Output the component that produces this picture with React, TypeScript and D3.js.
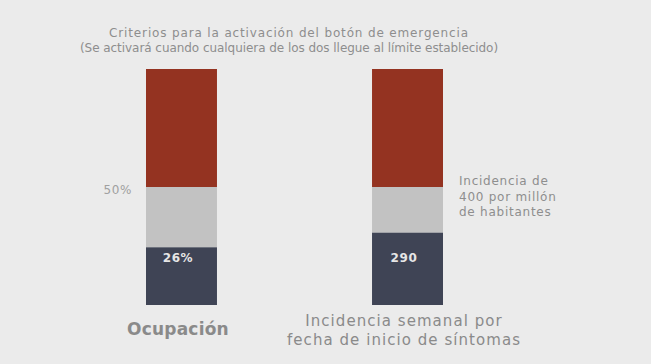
import React from "react";
import * as d3 from "d3";

const categories = ["Ocupación", "Incidencia semanal por\nfecha de inicio de síntomas"];
const segmentNames = ["actual", "margen", "exceso"];
// segment values (stacked bottom-up), per bar on its own scale
const occupancySegments = [24.5, 25.5, 50];
const incidenceSegments = [246, 154, 400];
const scaleMax = [100, 800];
const valueLabels = ["26%", "290"];
const thresholdLabels = ["50%", "Incidencia de\n400 por millón\nde habitantes"];
const title = "Criterios para la activación del botón de emergencia";
const subtitle = "(Se activará cuando cualquiera de los dos llegue al límite establecido)";

const colors = ["#3f4455", "#c2c2c2", "#943321"];
const W = 651, H = 364;
const FONT = "'DejaVu Sans', sans-serif";

export default function App() {
  const x = d3.scaleBand().domain(categories).range([146, 443]).paddingInner(0.686).paddingOuter(0);
  const bars = [occupancySegments, incidenceSegments];
  const top = 69, bottom = 305;
  return (
    <svg width={W} height={H} style={{ position: "absolute", left: 0, top: 0, background: "#ebebeb" }}>
      <rect width={W} height={H} fill="#ebebeb" />
      <text x={289} y={37} textAnchor="middle" fontFamily={FONT} fontSize={12} letterSpacing={0.85} fill="#8e8e8e">{title}</text>
      <text x={289} y={52} textAnchor="middle" fontFamily={FONT} fontSize={12} letterSpacing={-0.05} fill="#8e8e8e">{subtitle}</text>
      {categories.map((c, i) => {
        const y = d3.scaleLinear().domain([0, scaleMax[i]]).range([bottom, top]);
        const stack = d3.stack<number[]>().keys(["0", "1", "2"]).value((d, k) => d[+k])([bars[i]]);
        const bx = x(c)!;
        const bw = x.bandwidth();
        const thr = y(bars[i][0] + bars[i][1]);
        const lines = c.split("\n");
        const thrLines = thresholdLabels[i].split("\n");
        const cx = bx + bw / 2 - 3.5;
        return (
          <g key={c}>
            {stack.map((s, k) => (
              <rect key={segmentNames[k]} x={bx} width={bw} y={y(s[0][1])} height={y(s[0][0]) - y(s[0][1])} fill={colors[k]} />
            ))}
            <text x={cx} y={262} textAnchor="middle" fontFamily={FONT} fontSize={12} fontWeight={600} letterSpacing={0.6} fill="#e6e6e6">{valueLabels[i]}</text>
            {i === 0 ? (
              <text x={bx - 14} y={thr + 7} textAnchor="end" fontFamily={FONT} fontSize={12} letterSpacing={0.6} fill="#a0a0a0">{thrLines[0]}</text>
            ) : (
              <text x={bx + bw + 16} y={thr - 2} fontFamily={FONT} fontSize={12} letterSpacing={0.75} fill="#8e8e8e">
                {thrLines.map((l, j) => (
                  <tspan key={j} x={bx + bw + 16} dy={j === 0 ? 0 : 15.5}>{l}</tspan>
                ))}
              </text>
            )}
            {lines.length === 1 ? (
              <text x={cx} y={335} textAnchor="middle" fontFamily={FONT} fontSize={17} fontWeight="bold" letterSpacing={0.2} fill="#8a8a8a">{lines[0]}</text>
            ) : (
              <text x={cx} y={326} textAnchor="middle" fontFamily={FONT} fontSize={15} letterSpacing={1.05} fill="#8a8a8a">
                {lines.map((l, j) => (
                  <tspan key={j} x={cx} dy={j === 0 ? 0 : 19}>{l}</tspan>
                ))}
              </text>
            )}
          </g>
        );
      })}
    </svg>
  );
}
